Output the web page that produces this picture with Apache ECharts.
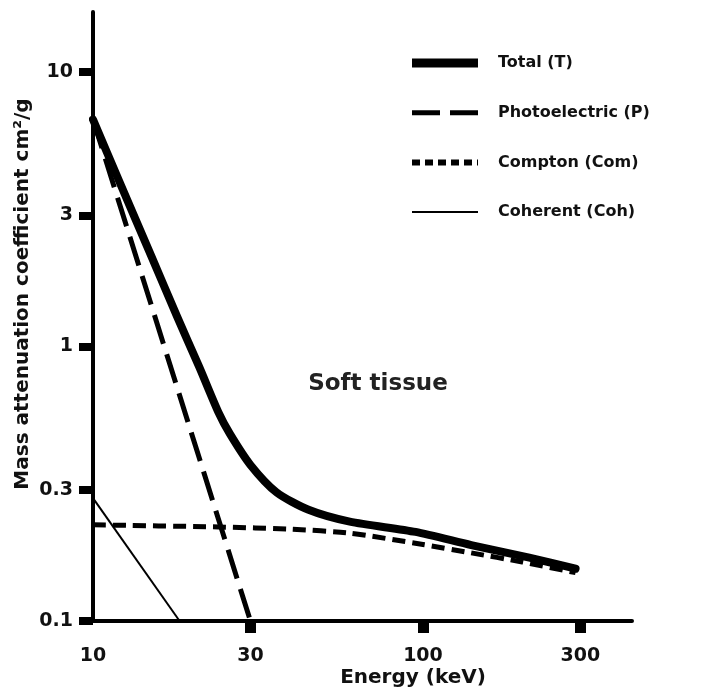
<!DOCTYPE html>
<html>
<head>
<meta charset="utf-8">
<script src="https://cdn.jsdelivr.net/npm/echarts@6/dist/echarts.min.js"></script>
<style>html,body{margin:0;padding:0;background:#fff;}#c{width:724px;height:698px;}</style>
</head>
<body>
<div id="c"></div>
<script>
// ---- data ----
const xTickLabels = [10, 30, 100, 300];
const yTickLabels = [0.1, 0.3, 1, 3, 10];

const totalEnergy = [10, 12, 15, 18, 21, 24, 26, 30, 36, 45, 60, 95, 140, 210, 290];
const totalValues = [6.7, 4.0, 2.14, 1.28, 0.84, 0.575, 0.48, 0.37, 0.294, 0.254, 0.23, 0.211, 0.189, 0.17, 0.155];

const photoEnergy = [10, 30];
const photoValues = [6.7, 0.1];

const comptonEnergy = [10, 24, 40, 60, 100, 140, 200, 290];
const comptonValues = [0.224, 0.22, 0.216, 0.209, 0.19, 0.177, 0.164, 0.15];

const coherentEnergy = [10, 18.3];
const coherentValues = [0.28, 0.1];

const seriesNames = ['Total (T)', 'Photoelectric (P)', 'Compton (Com)', 'Coherent (Coh)'];

function pairs(xs, ys) { return xs.map((x, i) => [x, ys[i]]); }

const FONT = '"DejaVu Sans", Arial, sans-serif';
const chart = echarts.init(document.getElementById('c'), null, { renderer: 'canvas' });

// legend drawn as graphics (line samples + labels)
const legendStyles = [
  { lineWidth: 9 },
  { lineWidth: 5, lineDash: [28, 10] },
  { lineWidth: 6, lineDash: [8, 5] },
  { lineWidth: 2 }
];
const legendGraphics = [];
seriesNames.forEach((name, i) => {
  const y = 63 + i * 49.7;
  legendGraphics.push({
    type: 'line', shape: { x1: 412, y1: y, x2: 478, y2: y },
    style: Object.assign({ stroke: '#000' }, legendStyles[i])
  });
  legendGraphics.push({
    type: 'text', x: 498, y: y,
    style: { text: name, fontFamily: FONT, fontWeight: 'bold', fontSize: 16, fill: '#111', textAlign: 'left', textVerticalAlign: 'middle' }
  });
});

chart.setOption({
  animation: false,
  backgroundColor: '#ffffff',
  grid: { left: 93, right: 92, top: 12, bottom: 77, containLabel: false },
  xAxis: {
    type: 'log',
    logBase: 10,
    min: 10,
    max: 430,
    axisLine: { show: true, lineStyle: { color: '#000', width: 4 } },
    axisTick: { show: true, customValues: [30, 100, 300], length: 12, inside: false, lineStyle: { color: '#000', width: 11 } },
    axisLabel: { customValues: xTickLabels, margin: 26, fontFamily: FONT, fontWeight: 'bold', fontSize: 19, color: '#111',
      formatter: v => String(Number(v.toPrecision(3))) },
    splitLine: { show: false },
    minorTick: { show: false }
  },
  yAxis: {
    type: 'log',
    logBase: 10,
    min: 0.1,
    max: 16.5,
    axisLine: { show: true, lineStyle: { color: '#000', width: 4 } },
    axisTick: { show: true, customValues: yTickLabels, length: 14, lineStyle: { color: '#000', width: 8 } },
    axisLabel: { customValues: yTickLabels, margin: 20, fontFamily: FONT, fontWeight: 'bold', fontSize: 19, color: '#111',
      formatter: v => String(Number(v.toPrecision(3))) },
    splitLine: { show: false },
    minorTick: { show: false }
  },
  graphic: [
    { type: 'text', x: 378, y: 384, style: { text: 'Soft tissue', fontFamily: FONT, fontWeight: 'bold', fontSize: 23, fill: '#222', textAlign: 'center', textVerticalAlign: 'middle' } },
    { type: 'text', x: 413, y: 678, style: { text: 'Energy (keV)', fontFamily: FONT, fontWeight: 'bold', fontSize: 20, fill: '#111', textAlign: 'center', textVerticalAlign: 'middle' } },
    { type: 'text', x: 23, y: 294, rotation: Math.PI / 2, style: { text: 'Mass attenuation coefficient cm²/g', fontFamily: FONT, fontWeight: 'bold', fontSize: 20, fill: '#111', textAlign: 'center', textVerticalAlign: 'middle' } }
  ].concat(legendGraphics),
  series: [
    {
      name: seriesNames[2], type: 'line', data: pairs(comptonEnergy, comptonValues), smooth: 0.2,
      symbol: 'none', lineStyle: { color: '#000', width: 5, type: [13, 7] }, itemStyle: { color: '#000' }, z: 3
    },
    {
      name: seriesNames[3], type: 'line', data: pairs(coherentEnergy, coherentValues),
      symbol: 'none', lineStyle: { color: '#000', width: 2 }, itemStyle: { color: '#000' }, z: 3
    },
    {
      name: seriesNames[1], type: 'line', data: pairs(photoEnergy, photoValues),
      symbol: 'none', lineStyle: { color: '#000', width: 5, type: [30, 11] }, itemStyle: { color: '#000' }, z: 4
    },
    {
      name: seriesNames[0], type: 'line', data: pairs(totalEnergy, totalValues), smooth: 0.25,
      symbol: 'none', lineStyle: { color: '#000', width: 8, cap: 'round', join: 'round' }, itemStyle: { color: '#000' }, z: 5
    }
  ]
});
</script>
</body>
</html>
